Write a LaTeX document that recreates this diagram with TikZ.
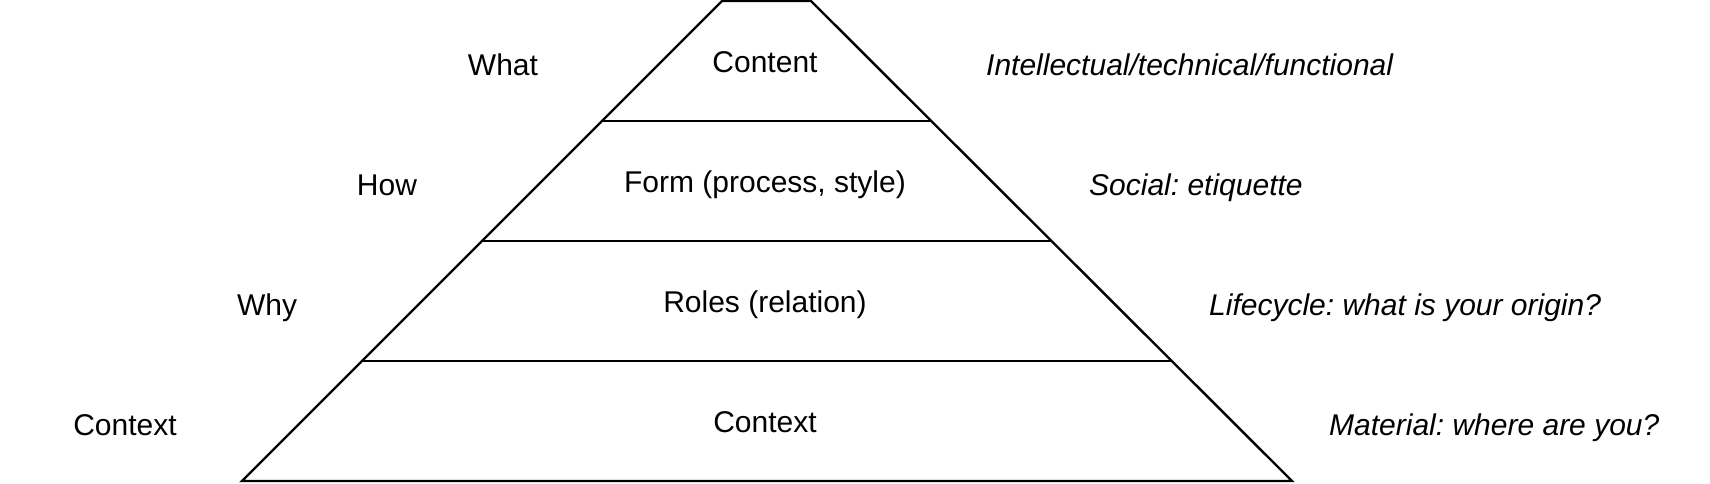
\documentclass[tikz,border=0pt]{standalone}
\usepackage{fontspec}
\setmainfont{Liberation Sans}
\frenchspacing

\tikzset{
	layer/.style={anchor=base, font=\fontsize{15}{18}\selectfont},
	question/.style={anchor=base, font=\fontsize{15}{18}\selectfont},
	aspect/.style={anchor=base west, inner xsep=0pt, font=\fontsize{15}{18}\selectfont\itshape}
}

\begin{document}
\begin{tikzpicture}[x=0.5pt, y=-0.5pt, line width=1.2pt, line join=miter]

	\useasboundingbox (0, 0) rectangle (1710, 483);

	\coordinate (l0) at (722, 1);
	\coordinate (r0) at (811, 1);
	\coordinate (l1) at (602, 121);
	\coordinate (r1) at (931, 121);
	\coordinate (l2) at (482, 241);
	\coordinate (r2) at (1051, 241);
	\coordinate (l3) at (362, 361);
	\coordinate (r3) at (1171, 361);
	\coordinate (l4) at (242, 481);
	\coordinate (r4) at (1292, 481);

	\draw (l4) -- (l0) -- (r0) -- (r4) -- cycle;
	\draw (l1) -- (r1);
	\draw (l2) -- (r2);
	\draw (l3) -- (r3);

	\node (content) [layer] at (765, 72) {Content};
	\node (form) [layer] at (765, 192) {Form (process, style)};
	\node (roles) [layer] at (765, 312) {Roles (relation)};
	\node (context) [layer] at (765, 432) {Context};

	\node (what) [question] at (503, 75) {What};
	\node (how) [question] at (387, 195) {How};
	\node (why) [question] at (267, 315) {Why};
	\node (where) [question] at (125, 435) {Context};

	\node (intellectual) [aspect] at (985, 75) {Intellectual/technical/functional};
	\node (social) [aspect] at (1088, 195) {Social: etiquette};
	\node (lifecycle) [aspect] at (1208, 315) {Lifecycle: what is your origin?};
	\node (material) [aspect] at (1328, 435) {Material: where are you?};

\end{tikzpicture}
\end{document}
